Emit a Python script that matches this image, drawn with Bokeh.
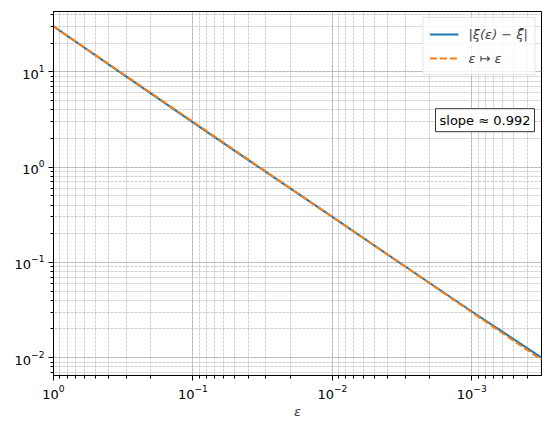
from bokeh.plotting import figure
from bokeh.models import Range1d, Label, Legend, LegendItem, LogTicker
from bokeh.embed import file_html
from bokeh.resources import INLINE

# data
eps = [1.0, 0.3, 0.1, 0.03, 1e-2, 3e-3, 1e-3, 3.16e-4]
err = [30.0, 8.9, 2.95, 0.89, 0.300, 0.0905, 0.0305, 0.0100]
ref = [30.0, 9.0, 3.0, 0.90, 0.300, 0.090, 0.030, 0.0095]
slope_text = "slope \u2248 0.992"

p = figure(width=542, height=421, x_axis_type="log", y_axis_type="log",
           x_range=Range1d(1.0, 10 ** -3.5), y_range=Range1d(0.0065, 43),
           output_backend="svg", toolbar_location=None,
           min_border_left=53, min_border_right=1, min_border_top=11, min_border_bottom=40)

p.outline_line_color = "black"
p.outline_line_width = 1
p.background_fill_color = "white"

for ax in (p.xaxis[0], p.yaxis[0]):
    ax.ticker = LogTicker(num_minor_ticks=10)
    ax.axis_line_color = "black"
    ax.major_tick_line_color = "black"
    ax.minor_tick_line_color = "black"
    ax.major_tick_out = 5
    ax.major_tick_in = 0
    ax.minor_tick_out = 3
    ax.minor_tick_in = 0
    ax.major_label_text_font = "DejaVu Sans"
    ax.major_label_text_font_size = "13px"
    ax.major_label_text_color = "black"
    ax.major_label_standoff = 4

p.xaxis.axis_label = "\u03b5"
p.xaxis.axis_label_text_font = "DejaVu Sans"
p.xaxis.axis_label_text_font_style = "italic"
p.xaxis.axis_label_text_font_size = "13px"
p.xaxis.axis_label_standoff = 2

for g in (p.xgrid[0], p.ygrid[0]):
    g.grid_line_color = "#b0b0b0"
    g.grid_line_dash = "3 1"
    g.grid_line_width = 0.6
    g.minor_grid_line_color = "#b0b0b0"
    g.minor_grid_line_dash = "3 1"
    g.minor_grid_line_width = 0.6

r1 = p.line(eps, err, line_color="#1f77b4", line_width=2)
r2 = p.line(eps, ref, line_color="#ff7f0e", line_width=2, line_dash="7 3")

legend = Legend(items=[LegendItem(label="|\u03be(\u03b5) \u2212 \u03be\u0304|", renderers=[r1]),
                       LegendItem(label="\u03b5 \u21a6 \u03b5", renderers=[r2])],
                location="top_right")
legend.label_text_font = "DejaVu Sans"
legend.label_text_font_size = "13px"
legend.label_text_font_style = "italic"
legend.border_line_color = "#cccccc"
legend.background_fill_alpha = 0.8
legend.margin = 6
legend.padding = 6
legend.spacing = 4
legend.glyph_width = 29
legend.label_standoff = 10
p.add_layout(legend)

lab = Label(x=8.04e-4, y=3.11, text=slope_text, text_align="center", text_baseline="middle",
            text_font="DejaVu Sans", text_font_size="13px", text_color="black",
            background_fill_color="white", border_line_color="#333333", border_line_width=1,
            padding=4)
p.add_layout(lab)

open("out.html", "w").write(file_html(p, INLINE))
